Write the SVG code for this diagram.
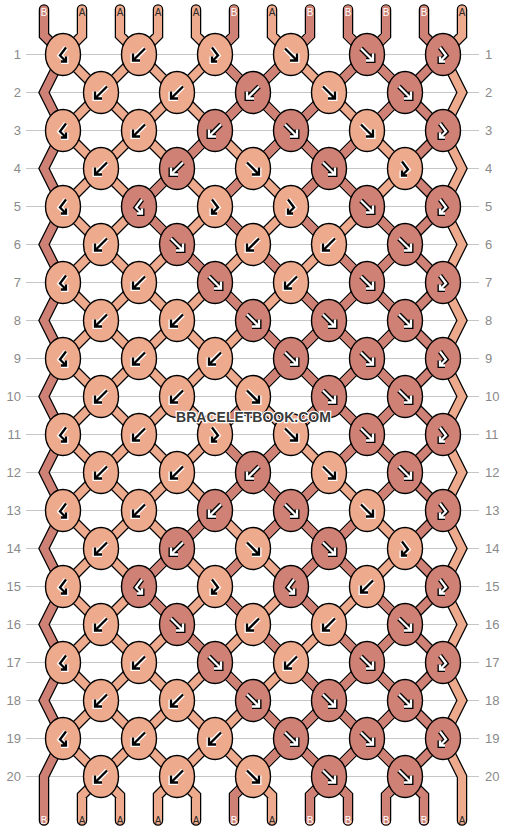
<svg xmlns="http://www.w3.org/2000/svg" xmlns:xlink="http://www.w3.org/1999/xlink" width="506" height="832" viewBox="0 0 506 832">
<style>
.grid{fill:none;stroke:#c6c6c6;stroke-width:1}
.num{font-family:"Liberation Sans",Arial,sans-serif;font-size:13px;fill:#8a8a8a}
.nl{text-anchor:end}
.lab{font-family:"Liberation Sans",Arial,sans-serif;font-size:10px;text-anchor:middle}
.la{fill:#2a2a2a}.lb{fill:#ffffff}
.out{fill:none;stroke:#000;stroke-width:10.5;stroke-linejoin:miter;stroke-linecap:round}
.sa{fill:none;stroke:#EDAA8D;stroke-width:8;stroke-linejoin:miter;stroke-linecap:round}
.sb{fill:none;stroke:#CE8174;stroke-width:8;stroke-linejoin:miter;stroke-linecap:round}
.hw{fill:none;stroke:#fff;stroke-width:5;stroke-linejoin:miter}
.hk{fill:none;stroke:#000;stroke-width:5;stroke-linejoin:miter}
.ik{fill:none;stroke:#000;stroke-width:2.3;stroke-linejoin:miter}
.iw{fill:none;stroke:#fff;stroke-width:2.3;stroke-linejoin:miter}
.wm{font-family:"Liberation Sans",Arial,sans-serif;font-weight:bold;font-size:14px;fill:#3a3a3a;stroke:#fff;stroke-width:2.5;paint-order:stroke;text-anchor:middle}
</style>
<defs>
<ellipse id="e" rx="17.5" ry="21" stroke="#000" stroke-width="1.4"/>
<path id="pf" d="M-6,-6L6,6M6,-1V6H-1"/>
<path id="pb" d="M6,-6L-6,6M-6,-1V6H1"/>
<path id="pfb" d="M-3,-7L3,1L-3,7M-3,2V7H2"/>
<path id="pbf" d="M3,-7L-3,1L3,7M3,2V7H-2"/>
<g id="fL"><use href="#e" fill="#EDAA8D"/><use href="#pf" class="hw"/><use href="#pf" class="ik"/></g>
<g id="fD"><use href="#e" fill="#CE8174"/><use href="#pf" class="hk"/><use href="#pf" class="iw"/></g>
<g id="bL"><use href="#e" fill="#EDAA8D"/><use href="#pb" class="hw"/><use href="#pb" class="ik"/></g>
<g id="bD"><use href="#e" fill="#CE8174"/><use href="#pb" class="hk"/><use href="#pb" class="iw"/></g>
<g id="fbL"><use href="#e" fill="#EDAA8D"/><use href="#pfb" class="hw"/><use href="#pfb" class="ik"/></g>
<g id="fbD"><use href="#e" fill="#CE8174"/><use href="#pfb" class="hk"/><use href="#pfb" class="iw"/></g>
<g id="bfL"><use href="#e" fill="#EDAA8D"/><use href="#pbf" class="hw"/><use href="#pbf" class="ik"/></g>
<g id="bfD"><use href="#e" fill="#CE8174"/><use href="#pbf" class="hk"/><use href="#pbf" class="iw"/></g>
<path id="pa" d="M82,-7V19l-19,19l38,38l-38,38l38,38l-38,38l38,38l-38,38l38,38l-38,38l38,38l-38,38l38,38l-38,38l38,38l-38,38l38,38l-38,38l38,38l-38,38l38,38l-19,19V804
M120,-7V19l19,19l-38,38l38,38l-38,38l38,38l-38,38l38,38l-38,38l38,38l-38,38l38,38l-38,38l38,38l-38,38l38,38l-38,38l38,38l-38,38l38,38l-38,38l19,19V804
M158,-7V19l-19,19l38,38l-38,38l38,38l-38,38l38,38l-38,38l38,38l-38,38l38,38l-38,38l38,38l-38,38l38,38l-38,38l38,38l-38,38l38,38l-38,38l38,38l-19,19V804
M196,-7V19l19,19l-38,38l38,38l-38,38l38,38l-38,38l38,38l-38,38l38,38l-38,38l38,38l-38,38l38,38l-38,38l38,38l-38,38l38,38l-38,38l38,38l-38,38l19,19V804
M234,-7V19l-19,19l38,38l-38,38l38,38l-38,38l38,38l-38,38l38,38l-38,38l38,38l-38,38l38,38l-38,38l38,38l-38,38l38,38l-38,38l38,38l-38,38l38,38l-19,19V804
M272,-7V19l19,19l-38,38l38,38l-38,38l38,38l-38,38l38,38l-38,38l38,38l-38,38l38,38l-38,38l38,38l-38,38l38,38l-38,38l38,38l-38,38l38,38l-38,38l19,19V804
M310,-7V19l-19,19l38,38l-38,38l38,38l-38,38l38,38l-38,38l38,38l-38,38l38,38l-38,38l38,38l-38,38l38,38l-38,38l38,38l-38,38l38,38l-38,38l38,38l-19,19V804
M348,-7V19l19,19l-38,38l38,38l-38,38l38,38l-38,38l38,38l-38,38l38,38l-38,38l38,38l-38,38l38,38l-38,38l38,38l-38,38l38,38l-38,38l38,38l-38,38l19,19V804
M386,-7V19l-19,19l38,38l-38,38l38,38l-38,38l38,38l-38,38l38,38l-38,38l38,38l-38,38l38,38l-38,38l38,38l-38,38l38,38l-38,38l38,38l-38,38l38,38l-19,19V804
M462,-7V19l-19,19l19,38l-19,38l19,38l-19,38l19,38l-19,38l19,38l-19,38l19,38l-19,38l19,38l-19,38l19,38l-19,38l19,38l-19,38l19,38l-19,38l19,38V804"/>
<path id="pbl" d="M44,-7V19l19,19l-19,38l19,38l-19,38l19,38l-19,38l19,38l-19,38l19,38l-19,38l19,38l-19,38l19,38l-19,38l19,38l-19,38l19,38l-19,38l19,38l-19,38V804
M424,-7V19l19,19l-38,38l38,38l-38,38l38,38l-38,38l38,38l-38,38l38,38l-38,38l38,38l-38,38l38,38l-38,38l38,38l-38,38l38,38l-38,38l38,38l-38,38l19,19V804"/>
</defs>
<rect x="0" y="0" width="506" height="832" fill="#fff"/>
<g transform="translate(0 16.5)">
<g id="grid">
<path class="grid" d="M26,38H479M26,76H479M26,114H479M26,152H479M26,190H479M26,228H479M26,266H479M26,304H479M26,342H479M26,380H479M26,418H479M26,456H479M26,494H479M26,532H479M26,570H479M26,608H479M26,646H479M26,684H479M26,722H479M26,760H479"/>
</g>
<g id="row-numbers" class="num">
<text class="nl" x="21" y="42.5">1</text><text class="nl" x="21" y="80.5">2</text><text class="nl" x="21" y="118.5">3</text><text class="nl" x="21" y="156.5">4</text><text class="nl" x="21" y="194.5">5</text><text class="nl" x="21" y="232.5">6</text><text class="nl" x="21" y="270.5">7</text><text class="nl" x="21" y="308.5">8</text><text class="nl" x="21" y="346.5">9</text><text class="nl" x="21" y="384.5">10</text><text class="nl" x="21" y="422.5">11</text><text class="nl" x="21" y="460.5">12</text><text class="nl" x="21" y="498.5">13</text><text class="nl" x="21" y="536.5">14</text><text class="nl" x="21" y="574.5">15</text><text class="nl" x="21" y="612.5">16</text><text class="nl" x="21" y="650.5">17</text><text class="nl" x="21" y="688.5">18</text><text class="nl" x="21" y="726.5">19</text><text class="nl" x="21" y="764.5">20</text>
<text x="485" y="42.5">1</text><text x="485" y="80.5">2</text><text x="485" y="118.5">3</text><text x="485" y="156.5">4</text><text x="485" y="194.5">5</text><text x="485" y="232.5">6</text><text x="485" y="270.5">7</text><text x="485" y="308.5">8</text><text x="485" y="346.5">9</text><text x="485" y="384.5">10</text><text x="485" y="422.5">11</text><text x="485" y="460.5">12</text><text x="485" y="498.5">13</text><text x="485" y="536.5">14</text><text x="485" y="574.5">15</text><text x="485" y="612.5">16</text><text x="485" y="650.5">17</text><text x="485" y="688.5">18</text><text x="485" y="726.5">19</text><text x="485" y="764.5">20</text>
</g>
<g id="connectors">
<use href="#pa" class="out"/>
<use href="#pbl" class="out"/>
<use href="#pa" class="sa"/>
<use href="#pbl" class="sb"/>
<path class="sb" d="M177,152L139,190L177,228M177,532L139,570L177,608
M215,114L177,152M177,228L215,266M215,494L177,532M177,608L215,646
M234,-7L234,19L215,38L253,76L215,114M253,152L215,190L253,228M215,266L253,304M253,380L215,418L253,456L215,494M253,532L215,570L253,608M215,646L253,684M253,760L234,779L234,804
M291,38L253,76L291,114L253,152M253,228L291,266M253,304L291,342L253,380M291,418L253,456L291,494L253,532M253,608L291,646M253,684L291,722L253,760
M310,-7L310,19L291,38M329,76L291,114L329,152L291,190L329,228M291,266L329,304L291,342L329,380L291,418M329,456L291,494L329,532L291,570L329,608M291,646L329,684L291,722L329,760L310,779L310,804
M348,-7L348,19L367,38L329,76M367,114L329,152L367,190M329,228L367,266L329,304L367,342L329,380L367,418L329,456M367,494L329,532L367,570M329,608L367,646L329,684L367,722L329,760L348,779L348,804
M386,-7L386,19L367,38L405,76L367,114M367,190L405,228L367,266L405,304L367,342L405,380L367,418L405,456L367,494M367,570L405,608L367,646L405,684L367,722L405,760L386,779L386,804"/>
</g>
<g id="string-labels" class="lab">
<text class="lb" x="44" y="-0.5">B</text><text class="la" x="82" y="-0.5">A</text><text class="la" x="120" y="-0.5">A</text><text class="la" x="158" y="-0.5">A</text><text class="la" x="196" y="-0.5">A</text><text class="lb" x="234" y="-0.5">B</text><text class="la" x="272" y="-0.5">A</text><text class="lb" x="310" y="-0.5">B</text><text class="lb" x="348" y="-0.5">B</text><text class="lb" x="386" y="-0.5">B</text><text class="lb" x="424" y="-0.5">B</text><text class="la" x="462" y="-0.5">A</text>
<text class="lb" x="44" y="807.5">B</text><text class="la" x="82" y="807.5">A</text><text class="la" x="120" y="807.5">A</text><text class="la" x="158" y="807.5">A</text><text class="la" x="196" y="807.5">A</text><text class="lb" x="234" y="807.5">B</text><text class="la" x="272" y="807.5">A</text><text class="lb" x="310" y="807.5">B</text><text class="lb" x="348" y="807.5">B</text><text class="lb" x="386" y="807.5">B</text><text class="lb" x="424" y="807.5">B</text><text class="la" x="462" y="807.5">A</text>
</g>
<g id="knots">
<g id="r1k1"><use href="#bfL" x="63" y="38"/></g><g id="r1k2"><use href="#bL" x="139" y="38"/></g><g id="r1k3"><use href="#fbL" x="215" y="38"/></g><g id="r1k4"><use href="#fL" x="291" y="38"/></g><g id="r1k5"><use href="#fD" x="367" y="38"/></g><g id="r1k6"><use href="#fbD" x="443" y="38"/></g>
<g id="r2k1"><use href="#bL" x="101" y="76"/></g><g id="r2k2"><use href="#bL" x="177" y="76"/></g><g id="r2k3"><use href="#bD" x="253" y="76"/></g><g id="r2k4"><use href="#fL" x="329" y="76"/></g><g id="r2k5"><use href="#fD" x="405" y="76"/></g>
<g id="r3k1"><use href="#bfL" x="63" y="114"/></g><g id="r3k2"><use href="#bL" x="139" y="114"/></g><g id="r3k3"><use href="#bD" x="215" y="114"/></g><g id="r3k4"><use href="#fD" x="291" y="114"/></g><g id="r3k5"><use href="#fL" x="367" y="114"/></g><g id="r3k6"><use href="#fbD" x="443" y="114"/></g>
<g id="r4k1"><use href="#bL" x="101" y="152"/></g><g id="r4k2"><use href="#bD" x="177" y="152"/></g><g id="r4k3"><use href="#fL" x="253" y="152"/></g><g id="r4k4"><use href="#fD" x="329" y="152"/></g><g id="r4k5"><use href="#fbL" x="405" y="152"/></g>
<g id="r5k1"><use href="#bfL" x="63" y="190"/></g><g id="r5k2"><use href="#bfD" x="139" y="190"/></g><g id="r5k3"><use href="#fbL" x="215" y="190"/></g><g id="r5k4"><use href="#fbL" x="291" y="190"/></g><g id="r5k5"><use href="#fD" x="367" y="190"/></g><g id="r5k6"><use href="#fbD" x="443" y="190"/></g>
<g id="r6k1"><use href="#bL" x="101" y="228"/></g><g id="r6k2"><use href="#fD" x="177" y="228"/></g><g id="r6k3"><use href="#bL" x="253" y="228"/></g><g id="r6k4"><use href="#bL" x="329" y="228"/></g><g id="r6k5"><use href="#fD" x="405" y="228"/></g>
<g id="r7k1"><use href="#bfL" x="63" y="266"/></g><g id="r7k2"><use href="#bL" x="139" y="266"/></g><g id="r7k3"><use href="#fD" x="215" y="266"/></g><g id="r7k4"><use href="#bL" x="291" y="266"/></g><g id="r7k5"><use href="#fD" x="367" y="266"/></g><g id="r7k6"><use href="#fbD" x="443" y="266"/></g>
<g id="r8k1"><use href="#bL" x="101" y="304"/></g><g id="r8k2"><use href="#bL" x="177" y="304"/></g><g id="r8k3"><use href="#fD" x="253" y="304"/></g><g id="r8k4"><use href="#fD" x="329" y="304"/></g><g id="r8k5"><use href="#fD" x="405" y="304"/></g>
<g id="r9k1"><use href="#bfL" x="63" y="342"/></g><g id="r9k2"><use href="#bL" x="139" y="342"/></g><g id="r9k3"><use href="#bL" x="215" y="342"/></g><g id="r9k4"><use href="#fD" x="291" y="342"/></g><g id="r9k5"><use href="#fD" x="367" y="342"/></g><g id="r9k6"><use href="#fbD" x="443" y="342"/></g>
<g id="r10k1"><use href="#bL" x="101" y="380"/></g><g id="r10k2"><use href="#bL" x="177" y="380"/></g><g id="r10k3"><use href="#fL" x="253" y="380"/></g><g id="r10k4"><use href="#fD" x="329" y="380"/></g><g id="r10k5"><use href="#fD" x="405" y="380"/></g>
<g id="r11k1"><use href="#bfL" x="63" y="418"/></g><g id="r11k2"><use href="#bL" x="139" y="418"/></g><g id="r11k3"><use href="#fbL" x="215" y="418"/></g><g id="r11k4"><use href="#fL" x="291" y="418"/></g><g id="r11k5"><use href="#fD" x="367" y="418"/></g><g id="r11k6"><use href="#fbD" x="443" y="418"/></g>
<g id="r12k1"><use href="#bL" x="101" y="456"/></g><g id="r12k2"><use href="#bL" x="177" y="456"/></g><g id="r12k3"><use href="#bD" x="253" y="456"/></g><g id="r12k4"><use href="#fL" x="329" y="456"/></g><g id="r12k5"><use href="#fD" x="405" y="456"/></g>
<g id="r13k1"><use href="#bfL" x="63" y="494"/></g><g id="r13k2"><use href="#bL" x="139" y="494"/></g><g id="r13k3"><use href="#bD" x="215" y="494"/></g><g id="r13k4"><use href="#fD" x="291" y="494"/></g><g id="r13k5"><use href="#fL" x="367" y="494"/></g><g id="r13k6"><use href="#fbD" x="443" y="494"/></g>
<g id="r14k1"><use href="#bL" x="101" y="532"/></g><g id="r14k2"><use href="#bD" x="177" y="532"/></g><g id="r14k3"><use href="#fL" x="253" y="532"/></g><g id="r14k4"><use href="#fD" x="329" y="532"/></g><g id="r14k5"><use href="#fbL" x="405" y="532"/></g>
<g id="r15k1"><use href="#bfL" x="63" y="570"/></g><g id="r15k2"><use href="#bfD" x="139" y="570"/></g><g id="r15k3"><use href="#fbL" x="215" y="570"/></g><g id="r15k4"><use href="#bfD" x="291" y="570"/></g><g id="r15k5"><use href="#bL" x="367" y="570"/></g><g id="r15k6"><use href="#fbD" x="443" y="570"/></g>
<g id="r16k1"><use href="#bL" x="101" y="608"/></g><g id="r16k2"><use href="#fD" x="177" y="608"/></g><g id="r16k3"><use href="#bL" x="253" y="608"/></g><g id="r16k4"><use href="#bL" x="329" y="608"/></g><g id="r16k5"><use href="#fD" x="405" y="608"/></g>
<g id="r17k1"><use href="#bfL" x="63" y="646"/></g><g id="r17k2"><use href="#bL" x="139" y="646"/></g><g id="r17k3"><use href="#fD" x="215" y="646"/></g><g id="r17k4"><use href="#bL" x="291" y="646"/></g><g id="r17k5"><use href="#fD" x="367" y="646"/></g><g id="r17k6"><use href="#fbD" x="443" y="646"/></g>
<g id="r18k1"><use href="#bL" x="101" y="684"/></g><g id="r18k2"><use href="#bL" x="177" y="684"/></g><g id="r18k3"><use href="#fD" x="253" y="684"/></g><g id="r18k4"><use href="#fD" x="329" y="684"/></g><g id="r18k5"><use href="#fD" x="405" y="684"/></g>
<g id="r19k1"><use href="#bfL" x="63" y="722"/></g><g id="r19k2"><use href="#bL" x="139" y="722"/></g><g id="r19k3"><use href="#bL" x="215" y="722"/></g><g id="r19k4"><use href="#fD" x="291" y="722"/></g><g id="r19k5"><use href="#fD" x="367" y="722"/></g><g id="r19k6"><use href="#fbD" x="443" y="722"/></g>
<g id="r20k1"><use href="#bL" x="101" y="760"/></g><g id="r20k2"><use href="#bL" x="177" y="760"/></g><g id="r20k3"><use href="#fL" x="253" y="760"/></g><g id="r20k4"><use href="#fD" x="329" y="760"/></g><g id="r20k5"><use href="#fD" x="405" y="760"/></g>
</g>
<text class="wm" x="253.5" y="405">BRACELETBOOK.COM</text>
</g>
</svg>
